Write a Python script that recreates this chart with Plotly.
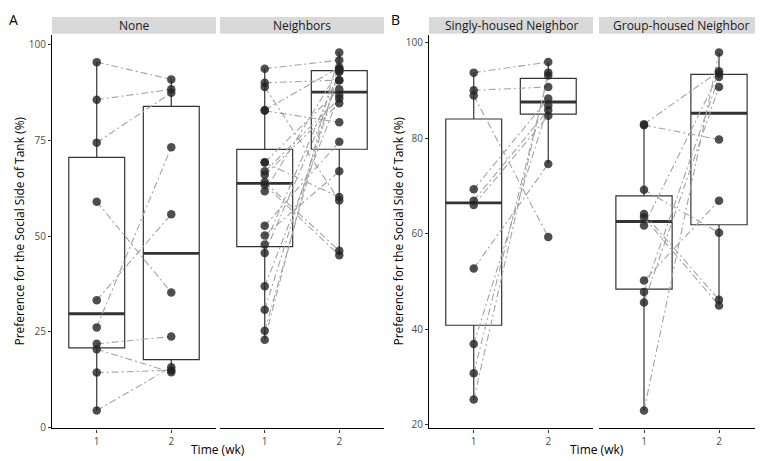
import numpy as np
import plotly.graph_objects as go

# ---------------- data ----------------
time_labels = ["1", "2"]

none_t1 = [95.4, 85.6, 74.4, 59.0, 33.3, 26.2, 21.9, 20.5, 14.4, 4.5]
none_t2 = [90.9, 88.3, 87.4, 35.3, 55.7, 73.2, 23.8, 14.5, 15.0, 15.8]

singly_t1 = [93.7, 90.0, 88.9, 69.3, 66.9, 66.0, 52.7, 36.9, 30.8, 25.3]
singly_t2 = [95.9, 90.7, 59.3, 88.3, 85.9, 84.7, 74.6, 86.8, 93.1, 93.7]

group_t1 = [82.9, 82.7, 69.2, 64.1, 63.4, 61.7, 50.2, 47.8, 45.6, 23.0]
group_t2 = [94.0, 79.7, 60.2, 46.2, 45.0, 93.5, 66.9, 92.8, 90.7, 97.9]

neighbors_t1 = singly_t1 + group_t1
neighbors_t2 = singly_t2 + group_t2

panel_names = ["None", "Neighbors", "Singly-housed Neighbor", "Group-housed Neighbor"]
panel_data = [(none_t1, none_t2), (neighbors_t1, neighbors_t2),
              (singly_t1, singly_t2), (group_t1, group_t2)]

y_ticks_A = [0, 25, 50, 75, 100]
y_ticks_B = [20, 40, 60, 80, 100]
y_title = "Preference for the Social Side of Tank (%)"
x_title = "Time (wk)"

# ---------------- layout geometry (pixels) ----------------
W, H = 763, 461
panel_px = [(44, 208), (212, 376), (421, 585), (591, 756)]
plot_top, plot_bot = 27, 426
strip_top = 9

def px_x(p):
    return p / W

def px_y(p):
    return 1 - p / H

FONT = "Open Sans"
BOX_COL = "#333333"
PT_COL = "rgba(35,35,35,0.8)"
LINE_COL = "#a3a3a3"


def box_stats(v):
    a = np.asarray(v, float)
    q1, med, q3 = np.percentile(a, [25, 50, 75])
    iqr = q3 - q1
    lo = a[a >= q1 - 1.5 * iqr].min()
    hi = a[a <= q3 + 1.5 * iqr].max()
    return q1, med, q3, lo, hi


fig = go.Figure()

for i, (name, (t1, t2)) in enumerate(zip(panel_names, panel_data)):
    xa = "x" if i == 0 else f"x{i+1}"
    ya = "y" if i == 0 else f"y{i+1}"
    # boxes
    for t, vals in ((1, t1), (2, t2)):
        q1, med, q3, lo, hi = box_stats(vals)
        fig.add_trace(go.Box(
            x=[t], q1=[q1], median=[med], q3=[q3], lowerfence=[lo], upperfence=[hi],
            width=0.75, fillcolor="rgba(255,255,255,0)", line=dict(color=BOX_COL, width=1.2),
            whiskerwidth=0, boxpoints=False, xaxis=xa, yaxis=ya,
            showlegend=False, hoverinfo="skip"))
        fig.add_trace(go.Scatter(
            x=[t - 0.375, t + 0.375], y=[med, med], mode="lines",
            line=dict(color=BOX_COL, width=2.8), xaxis=xa, yaxis=ya,
            showlegend=False, hoverinfo="skip"))
    # paired lines
    lx, ly = [], []
    for a, b in zip(t1, t2):
        lx += [1, 2, None]
        ly += [a, b, None]
    fig.add_trace(go.Scatter(
        x=lx, y=ly, mode="lines", connectgaps=False,
        line=dict(color=LINE_COL, width=1.1, dash="7px,3px,2px,3px"),
        xaxis=xa, yaxis=ya, showlegend=False, hoverinfo="skip"))
    # points
    fig.add_trace(go.Scatter(
        x=[1] * len(t1) + [2] * len(t2), y=list(t1) + list(t2), mode="markers",
        marker=dict(color=PT_COL, size=8.5, line=dict(width=0)),
        xaxis=xa, yaxis=ya, showlegend=False, hoverinfo="skip"))


def yrange(vals):
    lo, hi = min(vals), max(vals)
    d = (hi - lo) * 0.05
    return [lo - d, hi + d]

rangeA = yrange(none_t1 + none_t2 + neighbors_t1 + neighbors_t2)
rangeB = yrange(singly_t1 + singly_t2 + group_t1 + group_t2)

layout = dict(
    width=W, height=H, margin=dict(l=0, r=0, t=0, b=0),
    plot_bgcolor="white", paper_bgcolor="white", showlegend=False,
    font=dict(family=FONT, color="#4d4d4d"),
)

shapes = []
annotations = []
for i, (x0, x1) in enumerate(panel_px):
    key = "" if i == 0 else str(i + 1)
    layout["xaxis" + key] = dict(
        domain=[px_x(x0), px_x(x1)], range=[0.4, 2.6], tickvals=[1, 2], ticktext=time_labels,
        showline=True, linecolor="black", linewidth=1.1, ticks="outside", ticklen=3,
        tickcolor="#333333", tickwidth=1, tickfont=dict(size=10, color="#4d4d4d"),
        showgrid=False, zeroline=False, anchor="y" + key, fixedrange=True)
    first = i in (0, 2)
    rng = rangeA if i < 2 else rangeB
    ticks = y_ticks_A if i < 2 else y_ticks_B
    layout["yaxis" + key] = dict(
        domain=[px_y(plot_bot), px_y(plot_top)], range=rng, tickvals=ticks,
        showticklabels=first, ticks="outside" if first else "", ticklen=3,
        tickcolor="#333333", tickwidth=1, tickfont=dict(size=10, color="#4d4d4d"),
        showline=first, linecolor="black", linewidth=1.1,
        showgrid=False, zeroline=False, anchor="x" + key, fixedrange=True)
    shapes.append(dict(type="rect", xref="paper", yref="paper",
                       x0=px_x(x0), x1=px_x(x1), y0=px_y(plot_top - 1), y1=px_y(strip_top),
                       fillcolor="#d9d9d9", line=dict(width=0), layer="below"))
    annotations.append(dict(text=panel_names[i], xref="paper", yref="paper",
                            x=px_x((x0 + x1) / 2), y=px_y((strip_top + plot_top) / 2),
                            showarrow=False, xanchor="center", yanchor="middle",
                            font=dict(size=12, color="#1a1a1a", family=FONT)))

for lab, xp in (("A", 6), ("B", 387)):
    annotations.append(dict(text=lab, xref="paper", yref="paper", x=px_x(xp), y=px_y(12),
                            showarrow=False, xanchor="center", yanchor="middle",
                            font=dict(size=14, color="black", family=FONT)))
for xp in (12, 391):
    annotations.append(dict(text=y_title, xref="paper", yref="paper", x=px_x(xp),
                            y=px_y((plot_top + plot_bot) / 2), textangle=-90,
                            showarrow=False, xanchor="center", yanchor="middle",
                            font=dict(size=12, color="black", family=FONT)))
for (a, b) in ((panel_px[0][0], panel_px[1][1]), (panel_px[2][0], panel_px[3][1])):
    annotations.append(dict(text=x_title, xref="paper", yref="paper", x=px_x((a + b) / 2),
                            y=px_y(447), showarrow=False, xanchor="center", yanchor="middle",
                            font=dict(size=12, color="black", family=FONT)))

layout["shapes"] = shapes
layout["annotations"] = annotations
fig.update_layout(**layout)

fig.write_html("out.html")
